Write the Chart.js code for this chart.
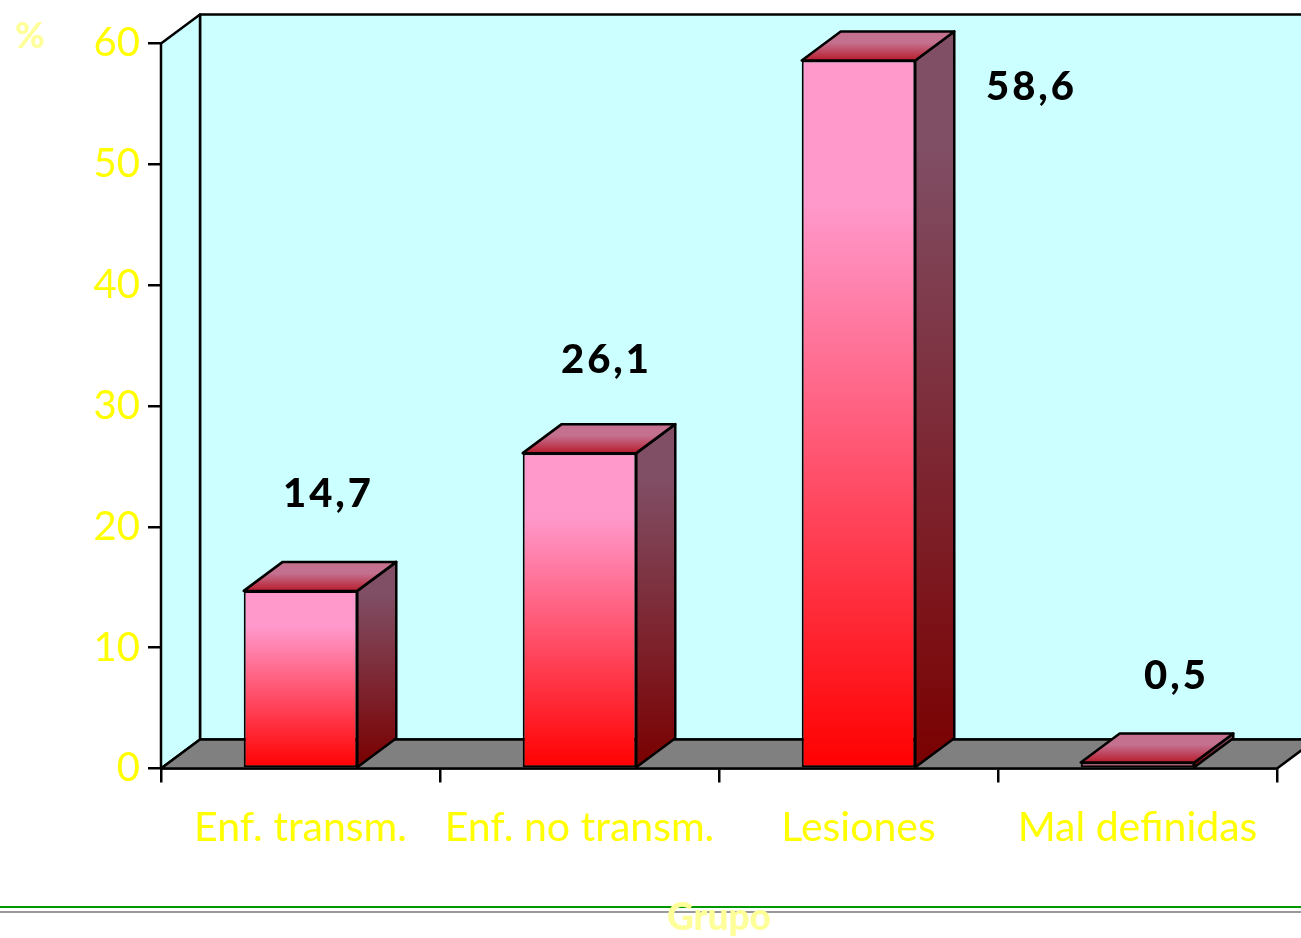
<!DOCTYPE html>
<html>
<head>
<meta charset="utf-8">
<title>Grupo</title>
<script src="https://cdn.jsdelivr.net/npm/chart.js@4"></script>
<style>
html,body{margin:0;padding:0;background:#fff;overflow:hidden;}
canvas{display:block;}
</style>
</head>
<body>
<canvas id="myChart" width="1301" height="938"></canvas>
<script>
const categories=['Enf. transm.','Enf. no transm.','Lesiones','Mal definidas'];
const porcentajes=[14.7,26.1,58.6,0.5];
const yTicks=[0,10,20,30,40,50,60];

const FONT='Lato';
const DEPTH_X=39;
const DEPTH_Y=29;
// the value labels were placed by hand in the original, so each has its own offset from the bar top
const labelDx=[28,27,173,39];
const labelDy=[-97,-93,27,-86];

function poly(ctx,pts,fill)
{
    ctx.beginPath();
    pts.forEach((p,i)=>{
        if(i===0) ctx.moveTo(p[0],p[1]);
        else ctx.lineTo(p[0],p[1]);
    });
    ctx.closePath();
    ctx.fillStyle=fill;
    ctx.fill();
    ctx.stroke();
}

function vGradient(ctx,y0,y1,stops)
{
    const g=ctx.createLinearGradient(0,y0,0,y1);
    stops.forEach(s=>g.addColorStop(s[0],s[1]));
    return g;
}

// front face of the bars
function frontColor(c)
{
    const y=c.chart.scales.y;
    if(!y||c.type!=='data'||!c.parsed) return '#ff0000';
    const top=y.getPixelForValue(c.parsed.y);
    const bottom=y.getPixelForValue(0);
    if(!Number.isFinite(top)||!Number.isFinite(bottom)) return '#ff0000';
    return vGradient(c.chart.ctx,top,bottom,[[0,'#ff99cc'],[0.2,'#ff99cc'],[1,'#ff0000']]);
}

// sheet lines behind everything
const decoration={
    id:'decoration',
    beforeDraw(chart){
        const ctx=chart.ctx;
        ctx.save();
        ctx.fillStyle='#ffffff';
        ctx.fillRect(0,0,chart.width,chart.height);
        ctx.fillStyle='#009900';
        ctx.fillRect(0,906,chart.width,2);
        ctx.fillStyle='#999999';
        ctx.fillRect(0,911,chart.width,2);
        ctx.restore();
    }
};

// walls, floor and the sides of each bar
const box3d={
    id:'box3d',
    beforeDatasetsDraw(chart){
        const ctx=chart.ctx;
        const a=chart.chartArea;
        ctx.save();
        ctx.strokeStyle='#000000';
        ctx.lineWidth=2.5;
        ctx.lineJoin='round';
        poly(ctx,[[a.left+DEPTH_X,a.top-DEPTH_Y],[a.right+DEPTH_X,a.top-DEPTH_Y],[a.right+DEPTH_X,a.bottom-DEPTH_Y],[a.left+DEPTH_X,a.bottom-DEPTH_Y]],'#ccffff');
        poly(ctx,[[a.left,a.top],[a.left+DEPTH_X,a.top-DEPTH_Y],[a.left+DEPTH_X,a.bottom-DEPTH_Y],[a.left,a.bottom]],'#ccffff');
        poly(ctx,[[a.left,a.bottom],[a.left+DEPTH_X,a.bottom-DEPTH_Y],[a.right+DEPTH_X,a.bottom-DEPTH_Y],[a.right,a.bottom]],'#808080');

        chart.getDatasetMeta(0).data.forEach(b=>{
            const l=b.x-b.width/2;
            const r=b.x+b.width/2;
            poly(ctx,[[r,b.y],[r+DEPTH_X,b.y-DEPTH_Y],[r+DEPTH_X,b.base-DEPTH_Y],[r,b.base]],
                vGradient(ctx,b.y-DEPTH_Y,b.base,[[0,'#804f66'],[0.15,'#804f66'],[1,'#7a0000']]));
            poly(ctx,[[l,b.y],[l+DEPTH_X,b.y-DEPTH_Y],[r+DEPTH_X,b.y-DEPTH_Y],[r,b.y]],
                vGradient(ctx,b.y-DEPTH_Y,b.y,[[0,'#c4708f'],[0.4,'#c4708f'],[1,'#b81c2c']]));
        });
        ctx.restore();
    },
    afterDatasetsDraw(chart){
        const ctx=chart.ctx;
        ctx.save();
        ctx.font='900 40px '+FONT;
        ctx.letterSpacing='3px';
        ctx.fillStyle='#000000';
        ctx.textAlign='center';
        ctx.textBaseline='middle';
        chart.getDatasetMeta(0).data.forEach((b,i)=>{
            ctx.fillText(porcentajes[i].toFixed(1).replace('.',','),b.x+labelDx[i],b.y+labelDy[i]);
        });
        ctx.letterSpacing='0px';
        ctx.font='900 36px '+FONT;
        ctx.fillStyle='#ffff99';
        ctx.fillText('%',30,36);
        ctx.restore();
    }
};

const data={
    labels:categories,
    datasets:[{
        label:'%',
        data:porcentajes,
        backgroundColor:frontColor,
        borderColor:'#000000',
        borderWidth:2,
        borderSkipped:false,
        categoryPercentage:0.407,
        barPercentage:1
    }]
};

const config={
    type:'bar',
    data:data,
    plugins:[decoration,box3d],
    options:{
        responsive:false,
        animation:false,
        layout:{padding:{top:43.5,right:24,left:0,bottom:0}},
        plugins:{
            legend:{display:false},
            tooltip:{enabled:false}
        },
        scales:{
            x:{
                afterFit(s){s.height=169.5;},
                grid:{color:'#000000',lineWidth:2.5,drawOnChartArea:false,tickLength:14,offset:true},
                border:{color:'#000000',width:2.5},
                ticks:{color:'#ffff00',font:{family:FONT,size:41},padding:21,maxRotation:0,autoSkip:false},
                title:{display:true,text:'Grupo',color:'#ffff99',font:{family:FONT,size:37,weight:'900'},padding:{top:0,bottom:-2}}
            },
            y:{
                min:0,
                max:60,
                afterFit(s){s.width=161;},
                afterBuildTicks(s){s.ticks=yTicks.map(v=>({value:v}));},
                grid:{color:'#000000',lineWidth:2.5,drawOnChartArea:false,tickLength:13},
                border:{color:'#000000',width:2.5},
                ticks:{color:'#ffff00',font:{family:FONT,size:40},padding:8}
            }
        }
    }
};

const can=document.getElementById('myChart');
const chart=new Chart(can,config);
</script>
</body>
</html>
